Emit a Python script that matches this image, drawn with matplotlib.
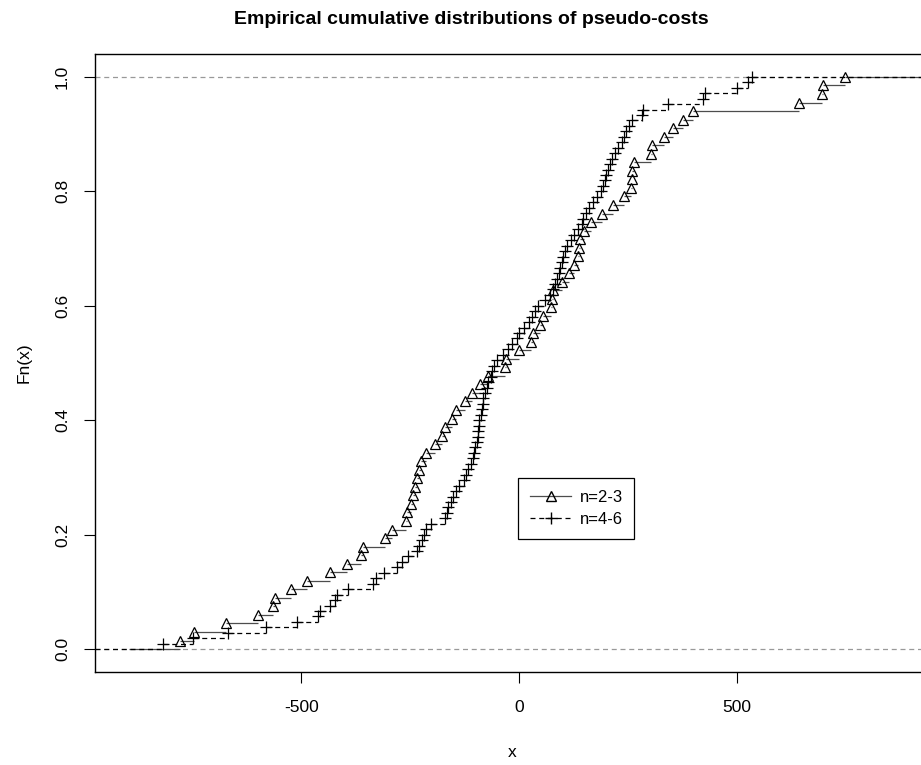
import numpy as np
import matplotlib.pyplot as plt
from matplotlib.lines import Line2D

plt.rcParams['font.family'] = ['Liberation Sans', 'DejaVu Sans']

# pseudo-costs, n=2-3 (triangles)
cost_small = [-779, -747, -673, -600, -565, -560, -524, -487, -434, -395,
              -363, -358, -308, -292, -260, -257, -248, -243, -239, -234,
              -230, -225, -214, -193, -177, -170, -154, -145, -124, -108,
              -90, -71, -32, -30, 0, 28, 32, 48, 55, 74,
              76, 78, 99, 115, 126, 136, 138, 140, 149, 165,
              191, 216, 241, 257, 259, 260, 264, 303, 306, 333,
              354, 377, 400, 643, 696, 698, 749]

# pseudo-costs, n=4-6 (plus signs)
cost_large = [-818, -749, -668, -581, -510, -462, -457, -434, -423, -418,
              -393, -335, -328, -310, -280, -269, -255, -234, -230, -223,
              -218, -214, -202, -170, -165, -163, -156, -152, -145, -138,
              -126, -122, -117, -110, -106, -103, -101, -96, -95, -94,
              -92, -91, -87, -85, -83, -82, -78, -74, -71, -64,
              -62, -57, -51, -37, -25, -16, -5, 1, 11, 23,
              30, 37, 44, 60, 71, 78, 83, 87, 92, 94,
              99, 101, 106, 110, 119, 126, 136, 145, 147, 154,
              161, 170, 179, 188, 193, 198, 200, 204, 209, 214,
              221, 227, 237, 241, 246, 253, 260, 283, 285, 342,
              423, 427, 501, 526, 535]

series_labels = ['n=2-3', 'n=4-6']

fig = plt.figure(figsize=(9.21, 7.65), dpi=100)
# right edge of the box falls just outside the picture, as in the original
ax = fig.add_axes([95 / 921, 93 / 765, 834 / 921, 618 / 765])

xmin, xmax = -974, 942
ax.set_xlim(xmin, xmax)
ax.set_ylim(-0.04, 1.04)

ax.axhline(0, color='0.6', ls=(0, (4, 3)), lw=0.9, zorder=1)
ax.axhline(1, color='0.6', ls=(0, (4, 3)), lw=0.9, zorder=1)


def draw_ecdf(values, ls, marker, ms, lw, color, left):
    x = np.sort(np.asarray(values, dtype=float))
    n = len(x)
    y = np.arange(1, n + 1) / n
    # horizontal pieces of the step function
    ax.hlines(0, left, x[0], colors=color, linestyles=ls, lw=lw, zorder=2)
    ax.hlines(y[:-1], x[:-1], x[1:], colors=color, linestyles=ls, lw=lw, zorder=2)
    ax.hlines(1, x[-1], xmax, colors=color, linestyles=ls, lw=lw, zorder=2)
    ax.plot(x, y, ls='none', marker=marker, ms=ms, mfc='none', mec='black',
            mew=0.9, zorder=3)


draw_ecdf(cost_small, 'solid', '^', 7.5, 0.9, '0.3', -897)
draw_ecdf(cost_large, (0, (4, 3)), '+', 8.5, 0.9, 'black', xmin)

ax.set_xticks([-500, 0, 500])
ax.set_xticklabels(['-500', '0', '500'])
ax.set_yticks([0.0, 0.2, 0.4, 0.6, 0.8, 1.0])
ax.set_yticklabels(['0.0', '0.2', '0.4', '0.6', '0.8', '1.0'], rotation=90, va='center')
ax.tick_params(direction='out', length=8, width=0.8, labelsize=12.5)
ax.tick_params(axis='x', pad=12)
ax.tick_params(axis='y', pad=10)
for s in ax.spines.values():
    s.set_linewidth(1.0)

ax.set_xlabel('x', fontsize=12.5, labelpad=22)
ax.set_ylabel('Fn(x)', fontsize=12.5, labelpad=17)

fig.text(471 / 921, 1 - 19 / 765, 'Empirical cumulative distributions of pseudo-costs',
         ha='center', va='center', fontsize=14, fontweight='bold')

handles = [
    Line2D([], [], color='0.3', lw=0.9, ls='solid', marker='^', ms=7.5, mfc='none', mec='black'),
    Line2D([], [], color='black', lw=0.9, ls=(0, (4, 3)), marker='+', ms=8.5, mec='black'),
]
leg = ax.legend(handles, series_labels, loc='upper left',
                bbox_to_anchor=(518 / 921, 1 - 478 / 765), bbox_transform=fig.transFigure,
                fancybox=False, framealpha=1, edgecolor='black', fontsize=12,
                handlelength=2.5, borderpad=0.7, labelspacing=0.45, handletextpad=0.5,
                borderaxespad=0)
leg.get_frame().set_linewidth(0.9)

fig.savefig('out.png', dpi=100)
plt.close(fig)
